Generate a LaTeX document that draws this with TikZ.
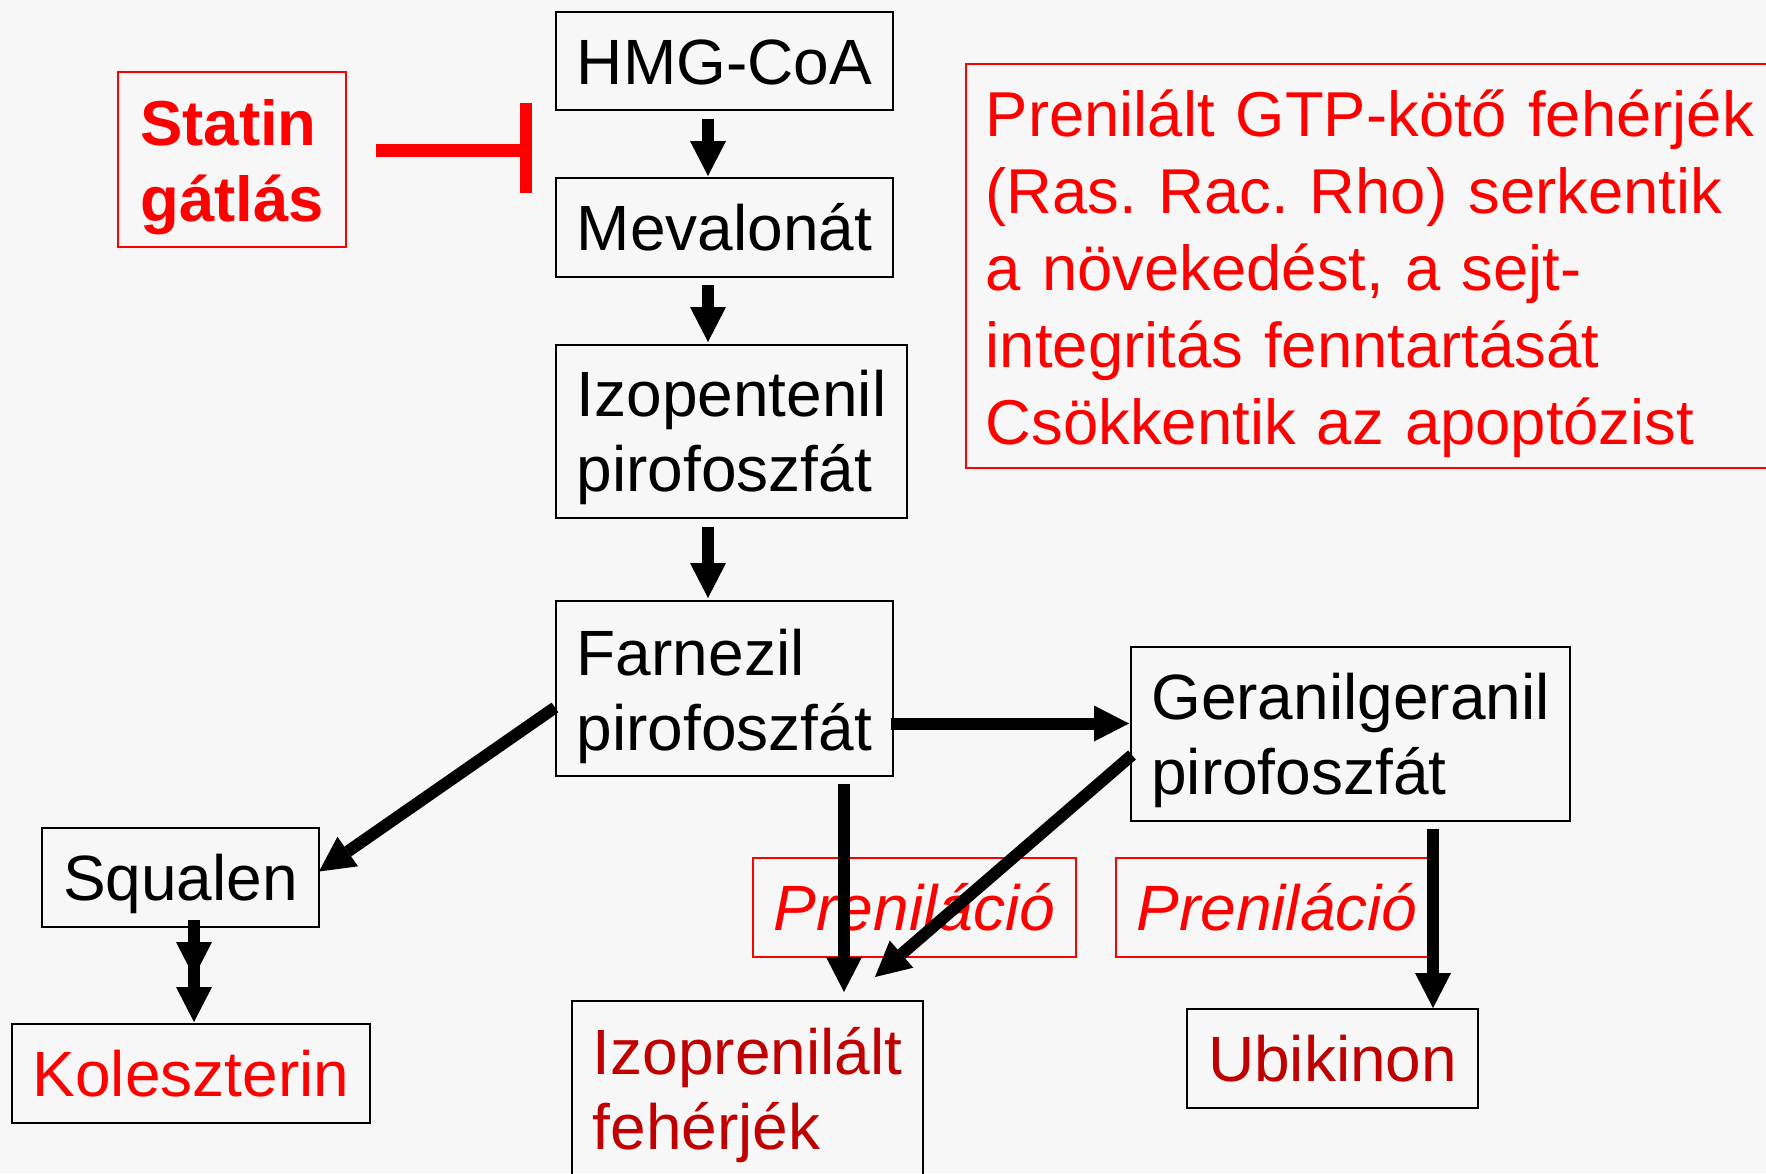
\documentclass[tikz,border=0pt]{standalone}
\usepackage{fontspec}
\setmainfont{Liberation Sans}
\usetikzlibrary{arrows.meta}
\definecolor{bg}{HTML}{F7F7F7}
\definecolor{pred}{HTML}{FF0000}
\definecolor{dred}{HTML}{C00000}
\newcommand{\toplift}[1]{\rule{0pt}{#1}}
\begin{document}
\frenchspacing
\begin{tikzpicture}[x=1pt,y=-1pt,
  box/.style={draw=black, line width=2pt, inner sep=0pt, font=\fontsize{64}{75}\selectfont, align=left},
  one/.style={text height=46pt, text depth=0pt},
  rbox/.style={draw=pred, line width=1.6pt, inner sep=0pt, font=\fontsize{64}{75}\selectfont, align=left},
  flow/.style={line width=12pt, -{Triangle[length=35pt,width=36pt,line width=0pt]}},
  inhib/.style={draw=pred, line width=13pt}
]
\fill[bg] (0,0) rectangle (1766,1173);
\useasboundingbox (0,0) rectangle (1766,1173);

\node[box,one, minimum width=337pt, minimum height=98pt] (hmg) at (724.5,61) {HMG-CoA};
\node[box,one, minimum width=337pt, minimum height=99pt] (mev) at (724.5,227.5) {Mevalonát};
\node[box, minimum width=351pt, minimum height=173pt] (izo) at (731.5,431.5) {\toplift{59pt}Izopentenil\\pirofoszfát};
\node[box, minimum width=337pt, minimum height=175pt] (farn) at (724.5,688.5) {\toplift{62pt}Farnezil\\pirofoszfát};
\node[box, minimum width=439pt, minimum height=174pt] (geran) at (1350.5,734) {\toplift{59pt}Geranilgeranil\\pirofoszfát};
\node[box,one, minimum width=277pt, minimum height=99pt] (squal) at (180.5,877.5) {Squalen};
\node[box,one, minimum width=358pt, minimum height=99pt, text=pred] (kol) at (191,1073.5) {Koleszterin};
\node[box, minimum width=351pt, minimum height=178pt, text=dred] (izopr) at (747.5,1090) {\toplift{58pt}Izoprenilált\\fehérjék};
\node[box,one, minimum width=291pt, minimum height=99pt, text=dred] (ubik) at (1332.5,1058.5) {Ubikinon};
\node[rbox,one, minimum width=323pt, minimum height=99pt, text=pred, font=\fontsize{64}{75}\selectfont\itshape] (pren1) at (914.5,907.5) {Preniláció};
\node[rbox,one, minimum width=322pt, minimum height=99pt, text=pred, font=\fontsize{64}{75}\selectfont\itshape] (pren2) at (1277,907.5) {Preniláció};
\node[rbox, minimum width=228pt, minimum height=175pt, text=pred, font=\fontsize{63.5}{76.5}\selectfont\bfseries] (statin) at (232,159.5) {\toplift{61.5pt}Statin\\gátlás};
\node[rbox, anchor=north west, minimum height=404pt, inner xsep=20pt, text width=790pt, text=pred, font=\fontsize{63.4}{77}\selectfont] (info) at (965,63)
  {\toplift{62pt}Prenilált GTP-kötő fehérjék\\(Ras. Rac. Rho) serkentik\\a növekedést, a sejt-\\integritás fenntartását\\Csökkentik az apoptózist};

% inhibition
\coordinate (inh) at ([xshift=-29.5pt,yshift=9.5pt]statin.east -| hmg.west);
\draw[inhib] ([xshift=29pt,yshift=9.5pt]statin.east) -- ([xshift=-6pt]inh);
\draw[draw=pred, line width=12pt] ([yshift=47pt]inh) -- ([yshift=-43pt]inh);

% main flow
\draw[flow, shorten <=8pt, shorten >=1pt] ([xshift=-16.5pt]hmg.south) -- ([xshift=-16.5pt]mev.north);
\draw[flow, shorten <=7pt, shorten >=2pt] ([xshift=-16.5pt]mev.south) -- ([xshift=-16.5pt]mev.south |- izo.north);
\draw[flow, shorten <=8pt, shorten >=2pt] ([xshift=-23.5pt]izo.south) -- ([xshift=-23.5pt]izo.south |- farn.north);
\draw[flow, shorten <=-3pt, shorten >=1pt] ([yshift=-35pt]farn.east) -- ([yshift=-35pt]farn.east -| geran.west);
\draw[flow] ([yshift=-19pt]farn.west) -- ([xshift=-1pt,yshift=6pt]squal.east);
\draw[flow, shorten <=7pt, shorten >=8pt] ([xshift=119.5pt]farn.south) -- ([xshift=119.5pt]farn.south |- izopr.north);
\draw[flow] ([xshift=2pt,yshift=-21pt]geran.west) -- ([xshift=127.5pt,yshift=23pt]izopr.north);
\draw[flow, shorten <=7pt] ([xshift=82.5pt]geran.south) -- ([xshift=82.5pt]geran.south |- ubik.north);
\draw[flow, shorten <=-8pt, shorten >=1pt] ([xshift=13.5pt]squal.south) -- ([xshift=13.5pt]squal.south |- kol.north);
\draw[flow, shorten <=-8pt, shorten >=46pt] ([xshift=13.5pt]squal.south) -- ([xshift=13.5pt]squal.south |- kol.north);
\end{tikzpicture}
\end{document}
